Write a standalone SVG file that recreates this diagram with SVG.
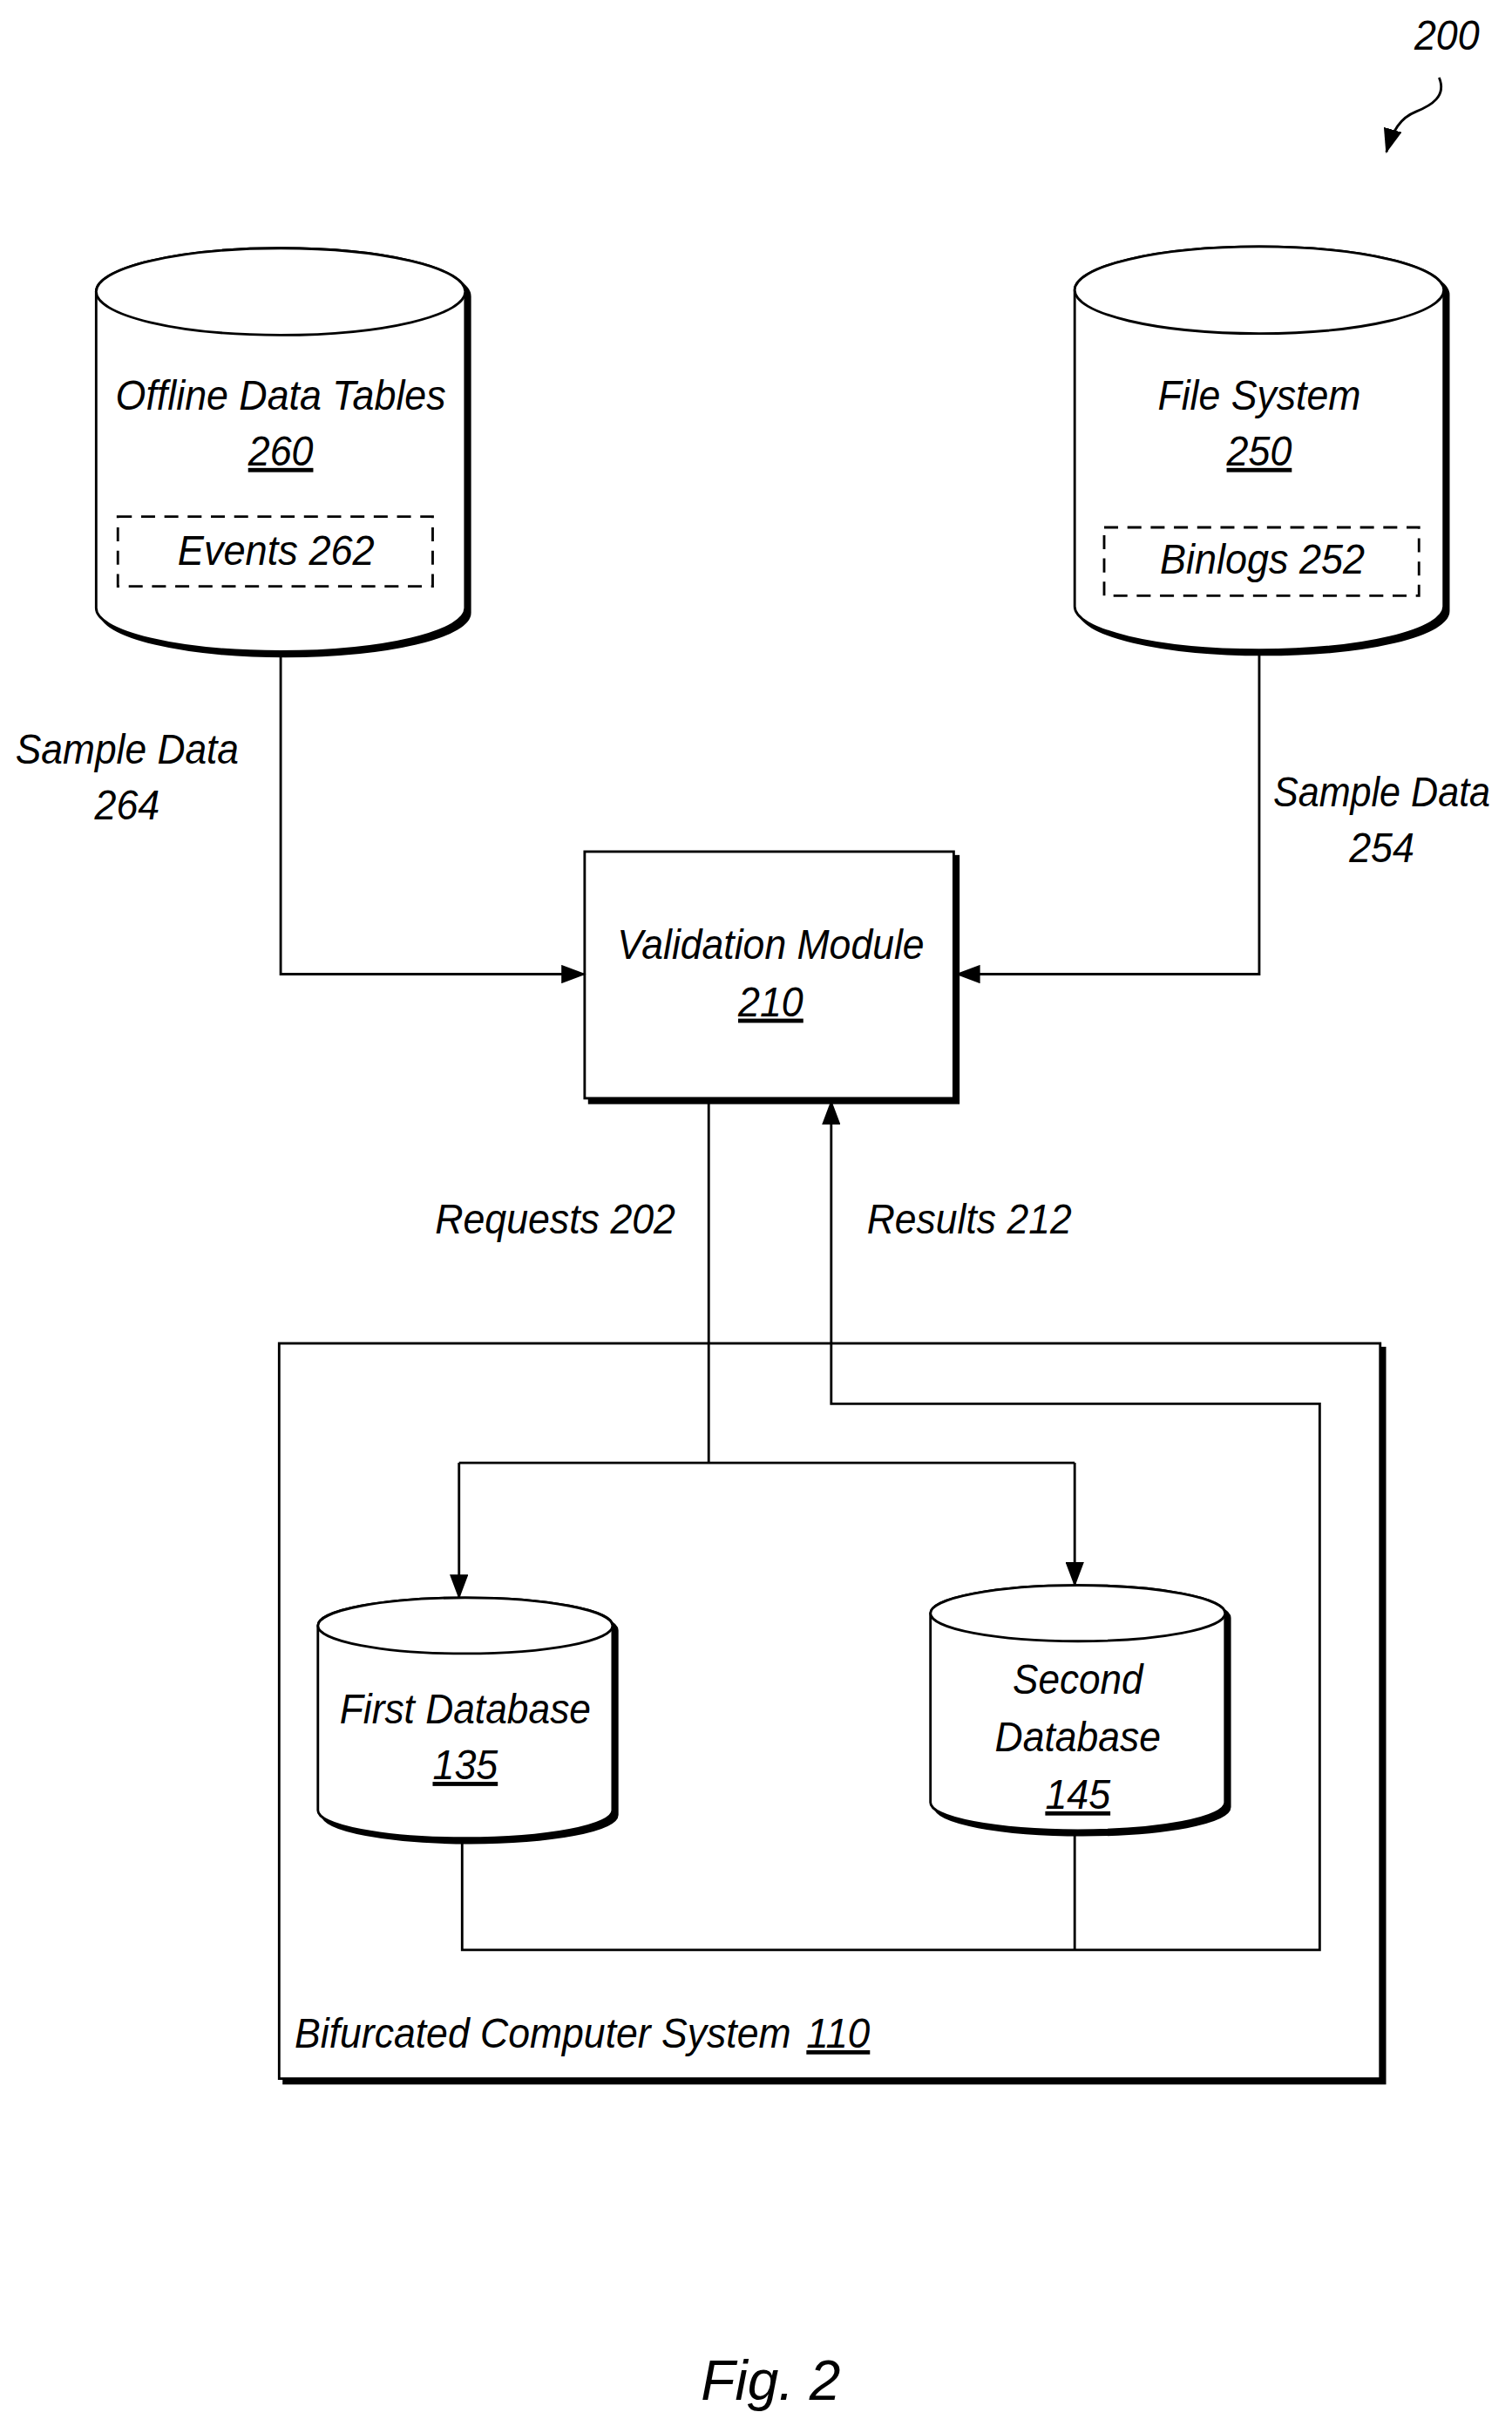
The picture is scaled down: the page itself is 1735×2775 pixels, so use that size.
<svg xmlns="http://www.w3.org/2000/svg" width="1735" height="2775" viewBox="0 0 1735 2775">
<style>
.s{fill:none;stroke:#000;stroke-width:1.6}
.b{fill:#fff;stroke:#000;stroke-width:1.6}
.sh{fill:#000;stroke:#000;stroke-width:1.6}
.d{fill:none;stroke:#000;stroke-width:1.6;stroke-dasharray:9,6}
text{font-family:"Liberation Sans",Arial,sans-serif;font-style:italic;font-size:27px;text-anchor:middle;fill:#000}
.u{text-decoration:underline}
</style>
<defs>
<marker id="a" markerUnits="userSpaceOnUse" markerWidth="16" markerHeight="12" refX="15" refY="6" orient="auto"><path d="M0,0 L16,6 L0,12 Z" fill="#000"/></marker>
</defs>
<rect width="1735" height="2775" fill="#fff"/>
<g transform="scale(1.7795)">
<g id="ref200">
<text x="933" y="32" lengthAdjust="spacingAndGlyphs" textLength="42">200</text>
<path class="s" d="M928,50 C933,62 923,68 913,72 C903,76 898,84 894,98" marker-end="url(#a)"/>
</g>
<g id="offline">
<path class="sh" d="M65,191 A119,28 0 0 1 303,191 L303,395 A119,28 0 0 1 65,395 Z"/>
<path class="b" d="M62,188 A119,28 0 0 1 300,188 L300,392 A119,28 0 0 1 62,392 Z"/>
<ellipse class="b" cx="181" cy="188" rx="119" ry="28"/>
<text x="181" y="264" lengthAdjust="spacingAndGlyphs" textLength="213">Offline Data Tables</text>
<text x="181" y="300" class="u" lengthAdjust="spacingAndGlyphs" textLength="42">260</text>
<rect class="d" x="76" y="333" width="203" height="45"/>
<text x="178" y="364" lengthAdjust="spacingAndGlyphs" textLength="127">Events 262</text>
</g>
<g id="filesystem">
<path class="sh" d="M696,190 A119,28 0 0 1 934,190 L934,394 A119,28 0 0 1 696,394 Z"/>
<path class="b" d="M693,187 A119,28 0 0 1 931,187 L931,391 A119,28 0 0 1 693,391 Z"/>
<ellipse class="b" cx="812" cy="187" rx="119" ry="28"/>
<text x="812" y="264" lengthAdjust="spacingAndGlyphs" textLength="131">File System</text>
<text x="812" y="300" class="u" lengthAdjust="spacingAndGlyphs" textLength="42">250</text>
<rect class="d" x="712" y="340" width="203" height="44"/>
<text x="814" y="370" lengthAdjust="spacingAndGlyphs" textLength="132">Binlogs 252</text>
</g>
<g id="validation">
<rect class="sh" x="380" y="552" width="238" height="159"/>
<rect class="b" x="377" y="549" width="238" height="159"/>
<text x="497" y="618" lengthAdjust="spacingAndGlyphs" textLength="198">Validation Module</text>
<text x="497" y="655" class="u" lengthAdjust="spacingAndGlyphs" textLength="42">210</text>
</g>
<g id="bifurcated">
<rect class="sh" x="183" y="869" width="710" height="474"/>
<rect class="b" x="180" y="866" width="710" height="474"/>
<text x="190" y="1320" style="text-anchor:start" lengthAdjust="spacingAndGlyphs" textLength="320">Bifurcated Computer System</text>
<text x="520" y="1320" style="text-anchor:start" class="u" lengthAdjust="spacingAndGlyphs" textLength="41">110</text>
</g>
<g id="connectors">
<path class="s" d="M181,422 V628 H377" marker-end="url(#a)"/>
<path class="s" d="M812,421 V628 H617" marker-end="url(#a)"/>
<path class="s" d="M457,708 V943"/>
<path class="s" d="M296,943 H693"/>
<path class="s" d="M296,943 V1030" marker-end="url(#a)"/>
<path class="s" d="M693,943 V1022" marker-end="url(#a)"/>
<path class="s" d="M298,1185 V1257 H851 V905 H536 V710" marker-end="url(#a)"/>
<path class="s" d="M693,1180 V1257"/>
</g>
<g id="firstdb">
<path class="sh" d="M208,1051 A95,18 0 0 1 398,1051 L398,1170 A95,18 0 0 1 208,1170 Z"/>
<path class="b" d="M205,1048 A95,18 0 0 1 395,1048 L395,1167 A95,18 0 0 1 205,1167 Z"/>
<ellipse class="b" cx="300" cy="1048" rx="95" ry="18"/>
<text x="300" y="1111" lengthAdjust="spacingAndGlyphs" textLength="162">First Database</text>
<text x="300" y="1147" class="u" lengthAdjust="spacingAndGlyphs" textLength="42">135</text>
</g>
<g id="seconddb">
<path class="sh" d="M603,1043 A95,18 0 0 1 793,1043 L793,1165 A95,18 0 0 1 603,1165 Z"/>
<path class="b" d="M600,1040 A95,18 0 0 1 790,1040 L790,1162 A95,18 0 0 1 600,1162 Z"/>
<ellipse class="b" cx="695" cy="1040" rx="95" ry="18"/>
<text x="695" y="1092" lengthAdjust="spacingAndGlyphs" textLength="84">Second</text>
<text x="695" y="1129" lengthAdjust="spacingAndGlyphs" textLength="107">Database</text>
<text x="695" y="1166" class="u" lengthAdjust="spacingAndGlyphs" textLength="42">145</text>
</g>
<g id="labels">
<text x="82" y="492" lengthAdjust="spacingAndGlyphs" textLength="144">Sample Data</text>
<text x="82" y="528" lengthAdjust="spacingAndGlyphs" textLength="42">264</text>
<text x="891" y="520" lengthAdjust="spacingAndGlyphs" textLength="140">Sample Data</text>
<text x="891" y="556" lengthAdjust="spacingAndGlyphs" textLength="42">254</text>
<text x="358" y="795" lengthAdjust="spacingAndGlyphs" textLength="155">Requests 202</text>
<text x="625" y="795" lengthAdjust="spacingAndGlyphs" textLength="132">Results 212</text>
<text x="497" y="1547" style="font-size:36px">Fig. 2</text>
</g>
</g>
</svg>
